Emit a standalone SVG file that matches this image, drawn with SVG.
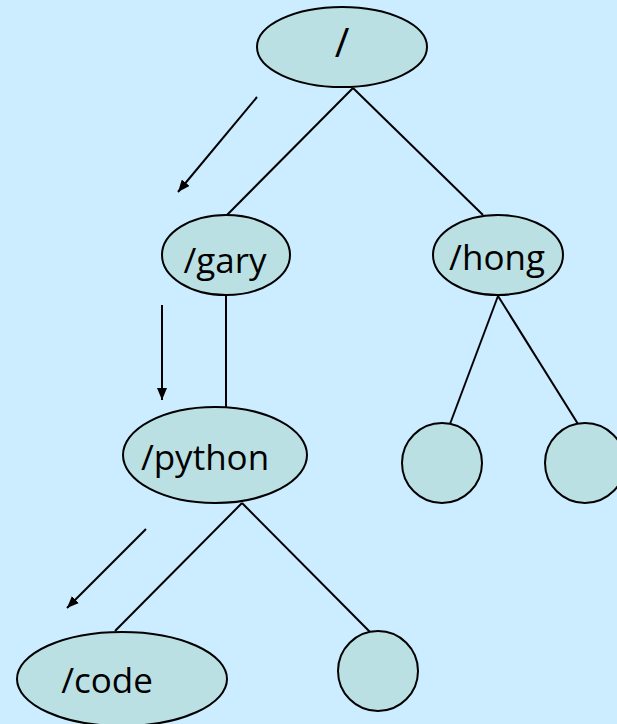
<svg xmlns="http://www.w3.org/2000/svg" width="617" height="724" viewBox="0 0 617 724">
<defs>
<marker id="ah" viewBox="0 0 12 10" refX="12" refY="5" markerWidth="12" markerHeight="10" markerUnits="userSpaceOnUse" orient="auto">
<path d="M0,0 L12,5 L0,10 z" fill="#000"/>
</marker>
</defs>
<style>
.n{fill:#BBE0E3;stroke:#000;stroke-width:2}
.e{stroke:#000;stroke-width:2;fill:none}
.a{stroke:#000;stroke-width:2;fill:none;marker-end:url(#ah)}
text{font-family:"Open Sans","Noto Sans",sans-serif;font-size:35px;fill:#000}
</style>
<rect width="617" height="724" fill="#CCECFF"/>
<g id="connectors">
<line class="e" x1="353" y1="88" x2="227" y2="215"/>
<line class="e" x1="353" y1="88" x2="483" y2="215"/>
<line class="e" x1="226" y1="295" x2="226" y2="407"/>
<line class="e" x1="498" y1="296" x2="450" y2="424"/>
<line class="e" x1="498" y1="296" x2="578" y2="424"/>
<line class="e" x1="242" y1="503" x2="115" y2="631"/>
<line class="e" x1="242" y1="503" x2="370" y2="632"/>
<line class="a" x1="257" y1="97" x2="178" y2="192"/>
<line class="a" x1="162" y1="305" x2="162" y2="400"/>
<line class="a" x1="146" y1="529" x2="67" y2="608"/>
</g>
<g id="root"><ellipse class="n" cx="342" cy="47" rx="85" ry="40"/><text x="342" y="57" text-anchor="middle" style="font-size:40px">/</text></g>
<g id="gary"><ellipse class="n" cx="226" cy="255" rx="64" ry="40"/><text x="225" y="273" text-anchor="middle">/gary</text></g>
<g id="hong"><ellipse class="n" cx="498" cy="255" rx="65" ry="40"/><text x="497" y="270" text-anchor="middle">/hong</text></g>
<g id="hong1"><circle class="n" cx="442" cy="463" r="40"/></g>
<g id="hong2"><circle class="n" cx="585" cy="463" r="40"/></g>
<g id="python"><ellipse class="n" cx="215" cy="455" rx="92" ry="48"/><text x="205" y="470" text-anchor="middle">/python</text></g>
<g id="code"><ellipse class="n" cx="122" cy="679" rx="105" ry="47"/><text x="107" y="693" text-anchor="middle">/code</text></g>
<g id="python1"><circle class="n" cx="378" cy="671" r="40"/></g>
</svg>
